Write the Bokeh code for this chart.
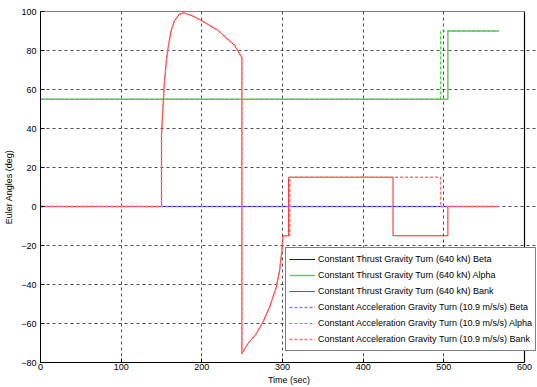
from bokeh.plotting import figure
from bokeh.models import Range1d, FixedTicker
from bokeh.embed import file_html
from bokeh.resources import INLINE

# ---- data ----
t_beta = [0, 568]
beta_thrust = [0, 0]
beta_acc = [0, 0]

t_alpha_thrust = [0, 505, 505, 568]
alpha_thrust = [55, 55, 90, 90]
t_alpha_acc = [0, 496, 496, 568]
alpha_acc = [55, 55, 90, 90]

t_bank_thrust = [0, 150, 150, 151.3, 153.4, 155.5, 157.6, 161.7, 165.8, 172, 177,
                 186.6, 199, 219.8, 240.4, 249.6, 249.6, 257, 267.4, 275.7, 284,
                 292.3, 296.4, 299.3, 300.5, 307.6, 307.6, 437, 437, 505, 505, 568]
bank_thrust = [0, 0, 36.6, 46.8, 62.2, 72.5, 79.8, 89.6, 95, 98.5, 99.3,
               98.1, 95.5, 90.4, 82.7, 76.3, -75.5, -70.4, -65.3, -59.3, -51.6,
               -41.4, -32.8, -22.6, -15, -15, 15, 15, -15, -15, 0, 0]

t_bank_acc = [0, 150, 150, 151.3, 153.4, 155.5, 157.6, 161.7, 165.8, 172, 177,
              186.6, 199, 219.8, 240.4, 249.6, 249.6, 257, 267.4, 275.7, 284,
              292.3, 296.4, 299.3, 300.5, 309, 309, 496, 496, 568]
bank_acc = [0, 0, 36.6, 46.8, 62.2, 72.5, 79.8, 89.6, 95, 98.5, 99.3,
            98.1, 95.5, 90.4, 82.7, 76.3, -75.5, -70.4, -65.3, -59.3, -51.6,
            -41.4, -32.8, -22.6, -15, -15, 15, 15, 0, 0]

x_ticks = [0, 100, 200, 300, 400, 500, 600]
y_ticks = [-80, -60, -40, -20, 0, 20, 40, 60, 80, 100]

labels = [
    "Constant Thrust Gravity Turn (640 kN) Beta",
    "Constant Thrust Gravity Turn (640 kN) Alpha",
    "Constant Thrust Gravity Turn (640 kN) Bank",
    "Constant Acceleration Gravity Turn (10.9 m/s/s) Beta",
    "Constant Acceleration Gravity Turn (10.9 m/s/s) Alpha",
    "Constant Acceleration Gravity Turn (10.9 m/s/s) Bank",
]

FONT = "Liberation Sans"
X0, X1 = x_ticks[0], x_ticks[-1]
Y0, Y1 = y_ticks[0], y_ticks[-1]

# frame extends past x=600 to the window edge so the legend is not clipped;
# the axes box itself is drawn at x=600
p = figure(width=537, height=387, output_backend="svg", toolbar_location=None,
           x_range=Range1d(X0, 616.1), y_range=Range1d(Y0, Y1),
           min_border_left=40, min_border_right=0, min_border_top=11,
           min_border_bottom=25)

p.line(t_beta, beta_thrust, color="#0000ff", line_width=1, legend_label=labels[0])
p.line(t_alpha_thrust, alpha_thrust, color="#77bb77", line_width=1.5, legend_label=labels[1])
p.line(t_bank_thrust, bank_thrust, color="#ff2020", line_width=1, legend_label=labels[2])
p.line(t_beta, beta_acc, color="#8080ff", line_width=1.5, line_dash="3 2", legend_label=labels[3])
p.line(t_alpha_acc, alpha_acc, color="#22dd22", line_width=1, line_dash="3 2", legend_label=labels[4])
p.line(t_bank_acc, bank_acc, color="#ff7070", line_width=1.5, line_dash="3 2", legend_label=labels[5])

# axes box (top and right edges)
p.line([X0, X1, X1], [Y1, Y1, Y0], color="#000000", line_width=1.2)

for ax in (p.xaxis[0], p.yaxis[0]):
    ax.major_label_text_font = FONT
    ax.major_label_text_font_size = "9px"
    ax.major_label_text_color = "#000000"
    ax.axis_label_text_font = FONT
    ax.axis_label_text_font_size = "9px"
    ax.axis_label_text_font_style = "normal"
    ax.axis_label_text_color = "#000000"
    ax.major_tick_in = 4
    ax.major_tick_out = 0
    ax.minor_tick_in = 0
    ax.minor_tick_out = 0
    ax.axis_line_color = "#000000"
    ax.major_tick_line_color = "#000000"

p.xaxis.bounds = (X0, X1)
p.xaxis.ticker = FixedTicker(ticks=x_ticks)
p.yaxis.ticker = FixedTicker(ticks=y_ticks)
p.xaxis.axis_label = "Time (sec)"
p.yaxis.axis_label = "Euler Angles (deg)"
p.xaxis.major_label_standoff = 1
p.xaxis.axis_label_standoff = 2
p.yaxis.major_label_standoff = 4
p.yaxis.axis_label_standoff = 4

p.grid.grid_line_color = "#222222"
p.grid.grid_line_alpha = 0.8
p.grid.grid_line_dash = "3 3"
p.grid.grid_line_width = 1
p.ygrid.bounds = (X0, X1)
p.xgrid.ticker = FixedTicker(ticks=x_ticks[:-1])

p.outline_line_color = None
p.background_fill_color = "white"
p.border_fill_color = "white"

lg = p.legend[0]
lg.location = (245, 11)
lg.label_text_font = FONT
lg.label_text_font_size = "9px"
lg.label_text_color = "#000000"
lg.glyph_width = 26
lg.glyph_height = 16
lg.label_height = 16
lg.label_standoff = 3
lg.spacing = 0
lg.padding = 3
lg.margin = 0
lg.border_line_color = "#000000"
lg.border_line_width = 1
lg.background_fill_color = "white"
lg.background_fill_alpha = 1

open("out.html", "w").write(file_html(p, INLINE))
